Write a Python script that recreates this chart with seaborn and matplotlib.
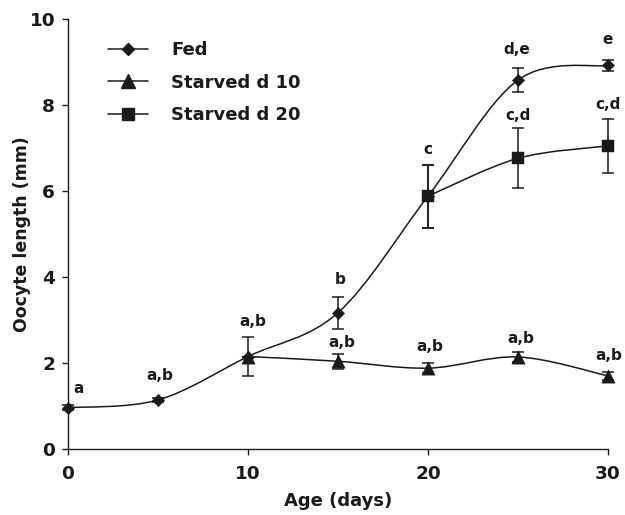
import numpy as np
import pandas as pd
import matplotlib
matplotlib.use("Agg")
import matplotlib.pyplot as plt
from matplotlib.path import Path
from matplotlib.patches import PathPatch
from matplotlib.lines import Line2D
import seaborn as sns

# ---------------- data ----------------
series_names = ["Fed", "Starved d 10", "Starved d 20"]

fed_days = [0, 5, 10, 15, 20, 25, 30]
fed_mean = [0.96, 1.14, 2.15, 3.17, 5.88, 8.58, 8.92]
fed_err = [0.06, 0.05, 0.45, 0.37, 0.73, 0.27, 0.12]

s10_days = [10, 15, 20, 25, 30]
s10_mean = [2.15, 2.04, 1.88, 2.14, 1.70]
s10_err = [0.0, 0.18, 0.12, 0.12, 0.10]

s20_days = [20, 25, 30]
s20_mean = [5.88, 6.76, 7.05]
s20_err = [0.73, 0.70, 0.63]

label_text = ["a", "a,b", "a,b", "b", "a,b", "c", "a,b", "d,e", "c,d", "a,b", "e", "c,d", "a,b"]
label_x = [0.6, 5.1, 10.26, 15.1, 15.2, 20.0, 20.1, 24.95, 25.0, 25.15, 30.0, 30.0, 30.05]
label_y = [1.31, 1.60, 2.87, 3.83, 2.37, 6.86, 2.27, 9.19, 7.64, 2.47, 9.43, 7.91, 2.08]

x_ticks = [0, 10, 20, 30]
y_ticks = [0, 2, 4, 6, 8, 10]
x_label = "Age (days)"
y_label = "Oocyte length (mm)"

# ---------------- style ----------------
ink = "#1a1a1a"
sns.set_style("ticks")
plt.rcParams["font.family"] = ["DejaVu Sans"]
plt.rcParams["font.weight"] = "bold"
plt.rcParams["axes.labelweight"] = "bold"

fig = plt.figure(figsize=(6.25, 5.15), dpi=100)
ax = fig.add_axes([0.1088, 0.1282, 0.864, 0.8349])


def smooth_path(x, y):
    pts = np.column_stack([x, y]).astype(float)
    n = len(pts)
    verts = [pts[0]]
    codes = [Path.MOVETO]
    for i in range(n - 1):
        p0 = pts[i - 1] if i > 0 else pts[i]
        p1 = pts[i]
        p2 = pts[i + 1]
        p3 = pts[i + 2] if i + 2 < n else pts[i + 1]
        c1 = p1 + (p2 - p0) / 6.0
        c2 = p2 - (p3 - p1) / 6.0
        verts += [c1, c2, p2]
        codes += [Path.CURVE4] * 3
    return Path(verts, codes)


groups = [
    (series_names[0], fed_days, fed_mean, fed_err, "D", 40),
    (series_names[1], s10_days, s10_mean, s10_err, "^", 92),
    (series_names[2], s20_days, s20_mean, s20_err, "s", 68),
]

# smoothed connecting curves
for name, d, m, e, mk, sz in groups:
    ax.add_patch(PathPatch(smooth_path(d, m), facecolor="none", edgecolor=ink,
                           lw=1.1, transform=ax.transData, zorder=2, clip_on=False))

# error bars
for name, d, m, e, mk, sz in groups:
    ax.errorbar(d, m, yerr=e, fmt="none", ecolor=ink, elinewidth=1.1,
                capsize=4, capthick=1.1, zorder=3, clip_on=False)

# markers via seaborn
for name, d, m, e, mk, sz in groups:
    df = pd.DataFrame({"day": d, "length": m})
    sns.scatterplot(data=df, x="day", y="length", marker=mk, s=sz, color=ink,
                    edgecolor=ink, linewidth=0.3, ax=ax, zorder=4, clip_on=False,
                    legend=False)

for t, x, y in zip(label_text, label_x, label_y):
    ax.text(x, y, t, ha="center", va="baseline", fontsize=11, fontweight="bold",
            color=ink)

ax.set_xlim(0, 30)
ax.set_ylim(0, 10)
ax.set_xticks(x_ticks)
ax.set_yticks(y_ticks)
ax.tick_params(axis="both", direction="out", length=4.3, width=1.0, color=ink,
               labelsize=13.3, labelcolor=ink)
ax.tick_params(axis="y", pad=5)
ax.tick_params(axis="x", pad=7.5)
for lab in ax.get_xticklabels() + ax.get_yticklabels():
    lab.set_fontweight("bold")
sns.despine(ax=ax)
for sp in ["left", "bottom"]:
    ax.spines[sp].set_color(ink)
    ax.spines[sp].set_linewidth(1.0)

ax.set_xlabel(x_label, fontsize=13, fontweight="bold", color=ink)
ax.set_ylabel(y_label, fontsize=12.5, fontweight="bold", color=ink)
ax.xaxis.set_label_coords(0.5, -0.099)
ax.yaxis.set_label_coords(-0.0685, 0.5)

handles = [
    Line2D([], [], color=ink, lw=1.1, marker="D", markersize=6.3),
    Line2D([], [], color=ink, lw=1.1, marker="^", markersize=9.6),
    Line2D([], [], color=ink, lw=1.1, marker="s", markersize=8.2),
]
leg = ax.legend(handles, series_names, loc="upper left",
                bbox_to_anchor=(0.074, 0.9486), frameon=False, borderpad=0,
                borderaxespad=0, handlelength=2.2, handletextpad=1.3,
                labelspacing=0.8, prop={"size": 13, "weight": "bold"})
for txt in leg.get_texts():
    txt.set_color(ink)

fig.savefig("out.png", dpi=100)
